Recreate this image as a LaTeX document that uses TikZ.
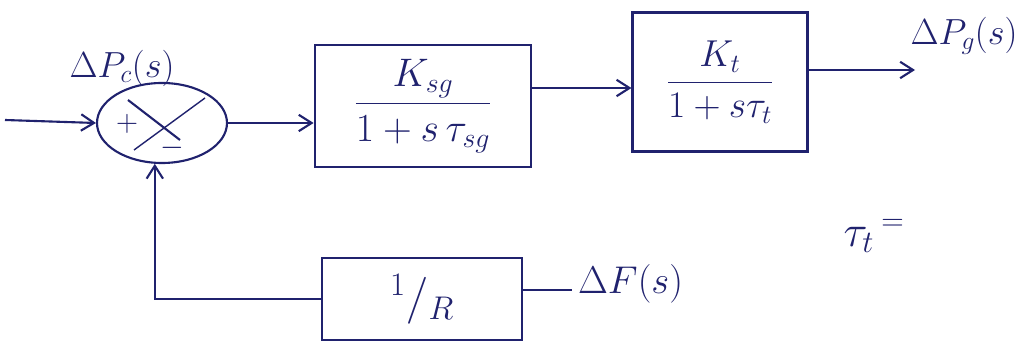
\RequirePackage{fix-cm}
\documentclass[tikz,border=0pt]{standalone}
\usepackage{amsmath}
\usetikzlibrary{arrows.meta,shapes.geometric,calc}
\definecolor{ink}{RGB}{32,34,110}
\begin{document}
\begin{tikzpicture}[x=0.03cm,y=-0.03cm,
  wire/.style={draw=ink,line width=1.8pt},
  arr/.style={wire,-{Straight Barb[length=11pt,width=14pt,line width=1.8pt]}},
  blockbox/.style={draw=ink,line width=1.8pt,rectangle,inner sep=0pt,text=ink,font=\fontsize{34}{40}\selectfont},
  lbl/.style={text=ink,font=\fontsize{25}{30}\selectfont},
  sumnode/.style={draw=ink,line width=1.8pt,ellipse,minimum width=3.9cm,minimum height=2.4cm,inner sep=0pt}]
\useasboundingbox (0,0) rectangle (1030,349);
\fill[white] (0,0) rectangle (1030,349);
% nodes
\node[sumnode] (sum) at (162,123) {};
\node[blockbox,minimum width=6.5cm,minimum height=3.66cm] (b1) at (423,106) {$\dfrac{K_{sg}}{1+s\,\tau_{sg}}$};
\node[blockbox,minimum width=5.25cm,minimum height=4.17cm,font=\fontsize{32}{38}\selectfont] (b2) at (720,82) {$\dfrac{K_{t}}{1+s\tau_{t}}$};
\node[blockbox,minimum width=6cm,minimum height=2.46cm,font=\fontsize{40}{44}\selectfont] (bR) at (422,299) {$^{1}/_{R}$};
% labels
\node[lbl,font=\fontsize{31}{36}\selectfont] (lc) at (122,68) {$\Delta P_{c}(s)$};
\node[lbl,font=\fontsize{31}{36}\selectfont] (lg) at (964,36) {$\Delta P_{g}(s)$};
\node[lbl,anchor=west,font=\fontsize{33}{38}\selectfont] (lf) at (574,284) {$\Delta F(s)$};
\node[lbl,font=\fontsize{38}{42}\selectfont] (tt) at (874,236) {$\tau_{t}\,{}^{=}$};
% inside summer
\node[lbl,font=\fontsize{26}{28}\selectfont] (plus) at (127,124) {$+$};
\node[lbl,font=\fontsize{26}{28}\selectfont] (minus) at (172,148) {$-$};
\coordinate (d1) at (128,100);
\coordinate (d2) at (180,140);
\coordinate (h1) at (134,150);
\coordinate (h2) at (205,98);
\draw[wire] (d1) -- (d2);
\draw[wire,line width=1.2pt] (h1) -- (h2);
% coordinates
\coordinate (in) at (5,120);
\coordinate (m1) at (0,88);
\coordinate (out) at (915,70);
\coordinate (fend) at (572,290);
% connectors
\draw[arr] (in) -- (sum.west);
\draw[arr] (sum.east) -- (sum.east -| b1.west);
\draw[arr] (b1.east |- m1) -- (b2.west |- m1);
\draw[arr] (b2.east |- out) -- (out);
\draw[wire] (bR.east |- fend) -- (fend);
\draw[arr] (bR.west) -| (sum.-100);
\end{tikzpicture}
\end{document}
